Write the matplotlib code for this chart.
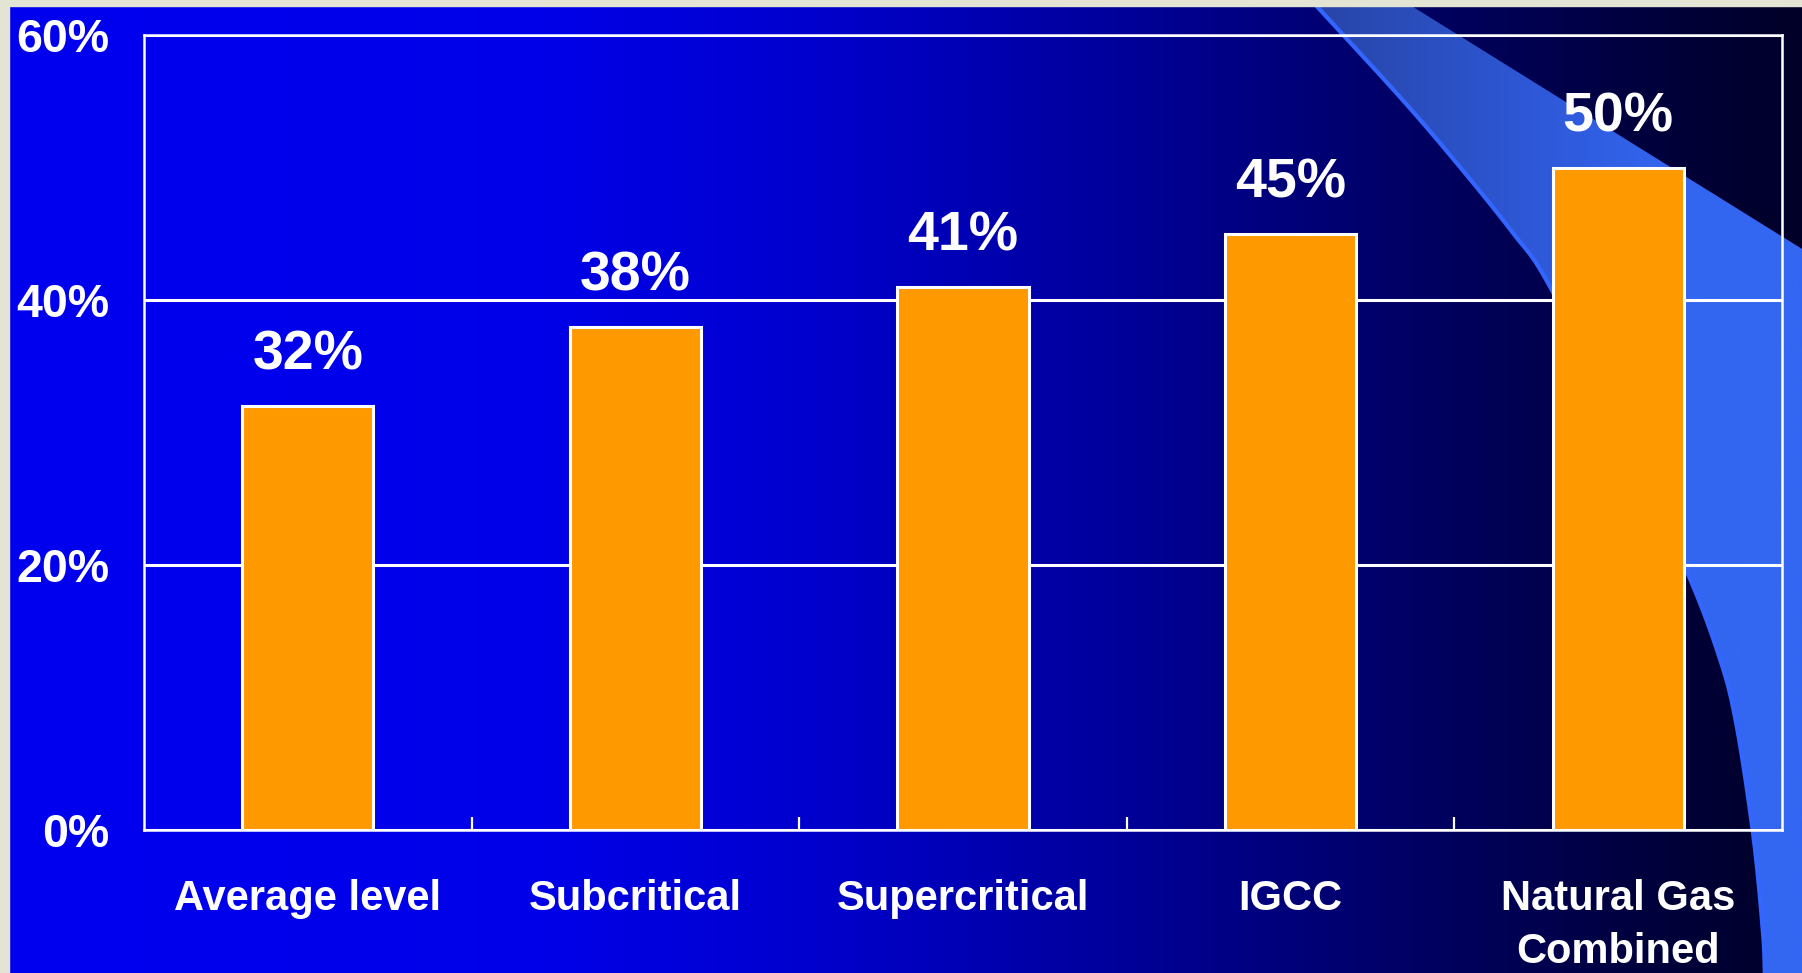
import numpy as np
import matplotlib
matplotlib.use("Agg")
import matplotlib.pyplot as plt
from matplotlib.patches import Polygon
from matplotlib.colors import LinearSegmentedColormap

# ---------------- data ----------------
categories = ["Average level", "Subcritical", "Supercritical", "IGCC", "Natural Gas\nCombined"]
efficiency = [32, 38, 41, 45, 50]
value_labels = ["32%", "38%", "41%", "45%", "50%"]
y_ticks = [0, 20, 40, 60]
y_tick_labels = ["0%", "20%", "40%", "60%"]

W, H = 1802, 973
plt.rcParams['font.family'] = ['Liberation Sans', 'DejaVu Sans']
plt.rcParams['font.weight'] = 'bold'

fig = plt.figure(figsize=(W / 100, H / 100), dpi=100, facecolor='#E4E4D4')

# ---------------- slide background ----------------
bg = fig.add_axes([0, 0, 1, 1], zorder=0)
bg.set_xlim(0, W)
bg.set_ylim(H, 0)
bg.axis('off')

stops = [(0.0, (0, 0, 240)), (0.30, (0, 0, 232)), (0.45, (0, 0, 205)),
         (0.60, (0, 0, 160)), (0.72, (0, 0, 120)), (0.80, (0, 0, 95)),
         (0.90, (0, 0, 65)), (1.0, (0, 0, 40))]
cmap_bg = LinearSegmentedColormap.from_list(
    'bg', [(p, tuple(c / 255 for c in col)) for p, col in stops])
grad = np.linspace(0, 1, 512).reshape(1, -1)
bg.imshow(grad, cmap=cmap_bg, aspect='auto', extent=(9, W, H, 6), zorder=0)

# decorative swoosh
ctrl = np.array([(1311, 0), (1400, 97), (1460, 167), (1513, 233),
                 (1548, 283), (1620, 425), (1685, 567), (1717, 650), (1735, 717),
                 (1753, 833), (1763, 933), (1765, 980)], dtype=float)


def catmull(pts, n=24):
    P = np.vstack([2 * pts[0] - pts[1], pts, 2 * pts[-1] - pts[-2]])
    out = []
    for i in range(1, len(P) - 2):
        p0, p1, p2, p3 = P[i - 1], P[i], P[i + 1], P[i + 2]
        for t in np.linspace(0, 1, n, endpoint=False):
            out.append(0.5 * ((2 * p1) + (-p0 + p2) * t + (2 * p0 - 5 * p1 + 4 * p2 - p3) * t ** 2
                              + (-p0 + 3 * p1 - 3 * p2 + p3) * t ** 3))
    out.append(P[-2])
    return np.array(out)


curve = catmull(ctrl)
poly_pts = np.vstack([curve, [(W + 5, 980), (W + 5, 252), (1402, 0)]])
swoosh = Polygon(poly_pts, closed=True, facecolor='none', edgecolor='none')
bg.add_patch(swoosh)
cmap_sw = LinearSegmentedColormap.from_list(
    'sw', [(0.0, (40 / 255, 68 / 255, 165 / 255)), (0.45, (46 / 255, 88 / 255, 215 / 255)),
           (0.75, (51 / 255, 102 / 255, 240 / 255)), (1.0, (51 / 255, 102 / 255, 242 / 255))])
im = bg.imshow(grad, cmap=cmap_sw, aspect='auto', extent=(1310, W, H, 6), zorder=1)
im.set_clip_path(swoosh)
bg.plot(curve[:, 0], curve[:, 1], color='#3366FF', lw=3.0, zorder=2, solid_capstyle='butt')
# beige border strips
bg.fill_between([0, 9], 0, H, color='#E4E4D4', zorder=5)
bg.fill_between([0, W], 0, 6, color='#E4E4D4', zorder=5)

# ---------------- chart ----------------
ax = fig.add_axes([144 / W, (H - 830) / H, (1782 - 144) / W, (830 - 35) / H], zorder=2)
ax.set_facecolor('none')
x = np.arange(len(categories))
bars = ax.bar(x, efficiency, width=0.4, color='#FF9900', edgecolor='white', linewidth=2.2, zorder=3)
for b, lab in zip(bars, value_labels):
    ax.annotate(lab, (b.get_x() + b.get_width() / 2, b.get_height()), xytext=(0, 26),
                textcoords='offset points', ha='center', va='baseline',
                color='white', fontsize=40, fontweight='bold')

ax.set_xlim(-0.5, len(categories) - 0.5)
ax.set_ylim(0, 60)
ax.set_yticks(y_ticks)
ax.set_yticklabels(y_tick_labels)
ax.set_xticks(x)
ax.set_xticklabels(categories, linespacing=1.42)
ax.set_xticks(np.arange(len(categories) - 1) + 0.5, minor=True)
ax.tick_params(axis='x', which='major', length=0, pad=35, labelsize=30, labelcolor='white')
ax.tick_params(axis='x', which='minor', direction='in', length=9.5, width=1.6, color='white')
ax.tick_params(axis='y', which='major', length=0, pad=25, labelsize=33.5, labelcolor='white')
for lab in ax.get_xticklabels() + ax.get_yticklabels():
    lab.set_fontweight('bold')
ax.set_axisbelow(True)
ax.yaxis.grid(True, color='white', lw=2.2)
for s in ax.spines.values():
    s.set_color('white')
    s.set_linewidth(1.8)

fig.savefig('out.png', dpi=100, facecolor=fig.get_facecolor())
